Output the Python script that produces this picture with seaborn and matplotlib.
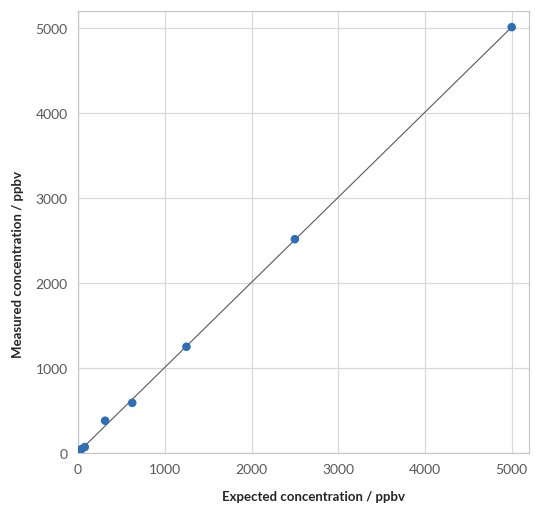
import numpy as np
import pandas as pd
import matplotlib
matplotlib.use("Agg")
import matplotlib.pyplot as plt
import seaborn as sns

# datos
expected = [10, 20, 39, 78, 312.5, 625, 1250, 2500, 5000]
measured = [12, 22, 45, 70, 380, 590, 1250, 2515, 5010]
x_ticks = [0, 1000, 2000, 3000, 4000, 5000]
y_ticks = [0, 1000, 2000, 3000, 4000, 5000]

df = pd.DataFrame({"expected": expected, "measured": measured})

sns.set_style("white")
plt.rcParams["font.family"] = ["Lato", "DejaVu Sans"]

fig = plt.figure(figsize=(5.51, 5.10), dpi=100)
ax = fig.add_axes([0.1416, 0.1098, 0.8186, 0.8667])

# línea de tendencia lineal
slope, intercept = np.polyfit(df["expected"], df["measured"], 1)
xl = np.array([min(expected), max(expected)])
ax.plot(xl, slope * xl + intercept, color="#595959", lw=0.8, zorder=2)

sns.scatterplot(data=df, x="expected", y="measured", ax=ax, s=38,
                color="#2E6EB5", edgecolor="none", zorder=3)

ax.set_xlim(0, 5200)
ax.set_ylim(0, 5200)
ax.set_xticks(x_ticks)
ax.set_yticks(y_ticks)
ax.grid(True, color="#d9d9d9", lw=0.9)
ax.set_axisbelow(True)
for s in ax.spines.values():
    s.set_color("#c8c8c8")
    s.set_linewidth(0.9)
ax.tick_params(axis="both", colors="#c8c8c8", length=4, width=0.9,
               labelcolor="#595959", labelsize=10)

ax.set_xlabel("")
ax.set_ylabel("")
# títulos de ejes colocados como en el original
fig.text(313 / 551, 1 - 497 / 510, "Expected concentration / ppbv", fontsize=9.5,
         fontweight="bold", ha="center", va="center")
fig.text(18 / 551, 1 - 265 / 510, "Measured concentration / ppbv", fontsize=9.5,
         fontweight="bold", ha="center", va="center", rotation=90)

fig.savefig("out.png", dpi=100)
